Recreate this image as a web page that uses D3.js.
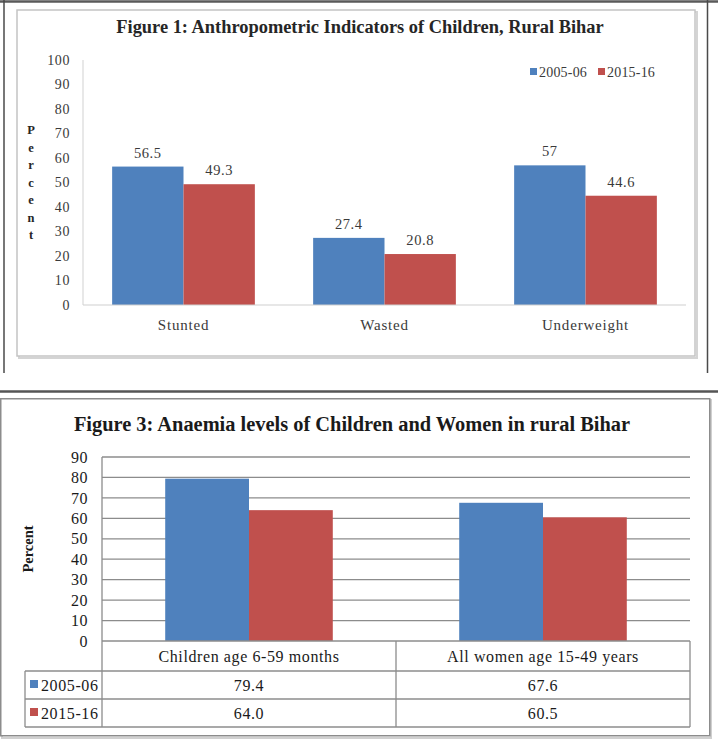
<!DOCTYPE html>
<html>
<head>
<meta charset="utf-8">
<script src="https://cdn.jsdelivr.net/npm/d3@7"></script>
<style>
  html, body { margin: 0; padding: 0; background: #fff; }
  svg { display: block; }
  svg text { font-family: 'Liberation Serif', 'DejaVu Serif', serif; }
</style>
</head>
<body>
<svg id="chart" width="720" height="756"></svg>
<script>
// ---------- Figure 1 data ----------
const fig1Title = "Figure 1: Anthropometric Indicators of Children, Rural Bihar";
const fig1Categories = ["Stunted", "Wasted", "Underweight"];
const seriesNames = ["2005-06", "2015-16"];
const fig1Values2005 = [56.5, 27.4, 57];
const fig1Values2015 = [49.3, 20.8, 44.6];
const fig1Labels2005 = ["56.5", "27.4", "57"];
const fig1Labels2015 = ["49.3", "20.8", "44.6"];
const fig1Ticks = [0, 10, 20, 30, 40, 50, 60, 70, 80, 90, 100];
const fig1AxisTitle = "Percent";

// ---------- Figure 3 data ----------
const fig3Title = "Figure 3: Anaemia levels of Children and Women in rural Bihar";
const fig3Categories = ["Children age 6-59 months", "All women age 15-49 years"];
const fig3Values2005 = [79.4, 67.6];
const fig3Values2015 = [64.0, 60.5];
const fig3Ticks = [0, 10, 20, 30, 40, 50, 60, 70, 80, 90];
const fig3AxisTitle = "Percent";

const colors = ["#4F81BD", "#C0504D"];
const serif = "'Liberation Serif', 'DejaVu Serif', serif";

const svg = d3.select("#chart");

function styleText(sel, size, spacing, fill, weight) {
  sel.style("font-family", serif).style("font-size", size + "px")
    .style("letter-spacing", (spacing || 0) + "px")
    .style("font-weight", weight || "normal")
    .attr("fill", fill);
  return sel;
}

// ================= Frames =================
svg.append("line").attr("x1", 0).attr("x2", 718).attr("y1", 1.5).attr("y2", 1.5)
  .attr("stroke", "#5a5a5a").attr("stroke-width", 2.5);
svg.append("line").attr("x1", 4).attr("x2", 4).attr("y1", 0).attr("y2", 373)
  .attr("stroke", "#4a4a4a").attr("stroke-width", 1.5);
svg.append("line").attr("x1", 707.5).attr("x2", 707.5).attr("y1", 0).attr("y2", 373)
  .attr("stroke", "#4a4a4a").attr("stroke-width", 1.5);
svg.append("rect").attr("x", 19).attr("y", 12).attr("width", 678).attr("height", 346)
  .attr("fill", "none").attr("stroke", "#d4d4d4").attr("stroke-width", 2);
svg.append("rect").attr("x", 17).attr("y", 10).attr("width", 678).attr("height", 346)
  .attr("fill", "#fff").attr("stroke", "#c4c4c4").attr("stroke-width", 1.5);

svg.append("line").attr("x1", 0).attr("x2", 718).attr("y1", 391.5).attr("y2", 391.5)
  .attr("stroke", "#555").attr("stroke-width", 2.5);

svg.append("rect").attr("x", 2).attr("y", 400).attr("width", 709).attr("height", 338)
  .attr("fill", "none").attr("stroke", "#d0d0d0").attr("stroke-width", 2);
svg.append("rect").attr("x", 0.75).attr("y", 398.75).attr("width", 709).attr("height", 337)
  .attr("fill", "#fff").attr("stroke", "#8c8c8c").attr("stroke-width", 1.5);

// ================= Figure 1 =================
const g1 = svg.append("g");
styleText(g1.append("text").attr("x", 360).attr("y", 33).attr("text-anchor", "middle")
  .text(fig1Title), 18.4, 0, "#262626", "bold");

const y1 = d3.scaleLinear().domain([0, 100]).range([305, 60]);
const x1 = d3.scaleBand().domain(fig1Categories).range([83, 686])
  .paddingInner(0.29).paddingOuter(0.145);
const xs1 = d3.scaleBand().domain(seriesNames).range([0, x1.bandwidth()]);

g1.append("line").attr("x1", 83).attr("x2", 83).attr("y1", y1(100)).attr("y2", y1(0))
  .attr("stroke", "#d9d9d9").attr("stroke-width", 1.2);

const ax1 = g1.append("g").attr("transform", "translate(83,0)")
  .call(d3.axisLeft(y1).tickValues(fig1Ticks).tickSize(0).tickPadding(13));
ax1.select(".domain").remove();
styleText(ax1.selectAll("text"), 14, 0.6, "#3a3a3a");

const letters = fig1AxisTitle.split("");
styleText(g1.append("g").selectAll("text").data(letters).join("text")
  .attr("x", 31).attr("y", (d, i) => 134 + i * 17.5)
  .attr("text-anchor", "middle").text(d => d), 12.5, 0, "#262626", "bold");

const fig1Data = [];
fig1Categories.forEach((c, i) => {
  fig1Data.push({ cat: c, s: seriesNames[0], v: fig1Values2005[i], label: fig1Labels2005[i] });
  fig1Data.push({ cat: c, s: seriesNames[1], v: fig1Values2015[i], label: fig1Labels2015[i] });
});

g1.append("g").selectAll("rect").data(fig1Data).join("rect")
  .attr("x", d => x1(d.cat) + xs1(d.s))
  .attr("y", d => y1(d.v))
  .attr("width", xs1.bandwidth())
  .attr("height", d => y1(0) - y1(d.v))
  .attr("fill", d => colors[seriesNames.indexOf(d.s)]);

styleText(g1.append("g").selectAll("text").data(fig1Data).join("text")
  .attr("x", d => x1(d.cat) + xs1(d.s) + xs1.bandwidth() / 2)
  .attr("y", d => y1(d.v) - 9)
  .attr("text-anchor", "middle").text(d => d.label), 14.5, 0.6, "#3a3a3a");

g1.append("line").attr("x1", 83).attr("x2", 686).attr("y1", y1(0)).attr("y2", y1(0))
  .attr("stroke", "#d0d0d0").attr("stroke-width", 1.2);

const cx1 = g1.append("g").attr("transform", `translate(0,${y1(0)})`)
  .call(d3.axisBottom(x1).tickSize(0).tickPadding(14));
cx1.select(".domain").remove();
styleText(cx1.selectAll("text"), 15, 0.8, "#3a3a3a");

const leg1 = g1.append("g");
const legX = [530, 598];
seriesNames.forEach((s, i) => {
  leg1.append("rect").attr("x", legX[i]).attr("y", 68).attr("width", 7).attr("height", 7)
    .attr("fill", colors[i]);
  styleText(leg1.append("text").attr("x", legX[i] + 9).attr("y", 77).text(s), 14, 0.2, "#3a3a3a");
});

// ================= Figure 3 =================
const g3 = svg.append("g");
styleText(g3.append("text").attr("x", 352).attr("y", 431).attr("text-anchor", "middle")
  .text(fig3Title), 20.4, 0, "#1a1a1a", "bold");

const y3 = d3.scaleLinear().domain([0, 90]).range([641, 457]);
const x3 = d3.scaleBand().domain(fig3Categories).range([102, 690])
  .paddingInner(0.43).paddingOuter(0.215);
const xs3 = d3.scaleBand().domain(seriesNames).range([0, x3.bandwidth()]);

g3.append("g").selectAll("line").data(fig3Ticks.filter(t => t > 0)).join("line")
  .attr("x1", 102).attr("x2", 690)
  .attr("y1", d => y3(d)).attr("y2", d => y3(d))
  .attr("stroke", "#8c8c8c").attr("stroke-width", 1.3);

const ax3 = g3.append("g").attr("transform", "translate(102,0)")
  .call(d3.axisLeft(y3).tickValues(fig3Ticks).tickSize(0).tickPadding(14));
ax3.select(".domain").remove();
styleText(ax3.selectAll("text"), 16, 0.5, "#1a1a1a");

styleText(g3.append("text").attr("transform", "translate(33,549) rotate(-90)")
  .attr("text-anchor", "middle").text(fig3AxisTitle), 14.5, 0, "#1a1a1a", "bold");

const fig3Data = [];
fig3Categories.forEach((c, i) => {
  fig3Data.push({ cat: c, s: seriesNames[0], v: fig3Values2005[i] });
  fig3Data.push({ cat: c, s: seriesNames[1], v: fig3Values2015[i] });
});

g3.append("g").selectAll("rect").data(fig3Data).join("rect")
  .attr("x", d => x3(d.cat) + xs3(d.s))
  .attr("y", d => y3(d.v))
  .attr("width", xs3.bandwidth())
  .attr("height", d => y3(0) - y3(d.v))
  .attr("fill", d => colors[seriesNames.indexOf(d.s)]);

const rowH = [641, 671, 699, 727];
const colEdges = [102, x3.step() + 102, 690];
const tbl = g3.append("g").attr("stroke", "#8c8c8c").attr("stroke-width", 1.3);
tbl.append("line").attr("x1", 102).attr("x2", 102).attr("y1", y3(90)).attr("y2", rowH[3]);
tbl.append("line").attr("x1", 102).attr("x2", 690).attr("y1", rowH[0]).attr("y2", rowH[0]);
[1, 2, 3].forEach(r => {
  tbl.append("line").attr("x1", 25).attr("x2", 690).attr("y1", rowH[r]).attr("y2", rowH[r]);
});
tbl.append("line").attr("x1", 25).attr("x2", 25).attr("y1", rowH[1]).attr("y2", rowH[3]);
[colEdges[1], colEdges[2]].forEach(x => {
  tbl.append("line").attr("x1", x).attr("x2", x).attr("y1", rowH[0]).attr("y2", rowH[3]);
});

styleText(g3.append("g").selectAll("text").data(fig3Categories).join("text")
  .attr("x", d => x3(d) + x3.bandwidth() / 2)
  .attr("y", 662)
  .attr("text-anchor", "middle").text(d => d), 16, 0.6, "#1a1a1a");

const rowVals = [fig3Values2005, fig3Values2015];
seriesNames.forEach((s, r) => {
  const yText = (rowH[r + 1] + rowH[r + 2]) / 2 + 5.5;
  g3.append("rect").attr("x", 30).attr("y", yText - 10.5).attr("width", 8).attr("height", 8)
    .attr("fill", colors[r]);
  styleText(g3.append("text").attr("x", 41).attr("y", yText).text(s), 16, 0.6, "#1a1a1a");
  fig3Categories.forEach((c, i) => {
    styleText(g3.append("text").attr("x", x3(c) + x3.bandwidth() / 2).attr("y", yText)
      .attr("text-anchor", "middle").text(rowVals[r][i].toFixed(1)), 16, 0.6, "#1a1a1a");
  });
});
</script>
</body>
</html>
